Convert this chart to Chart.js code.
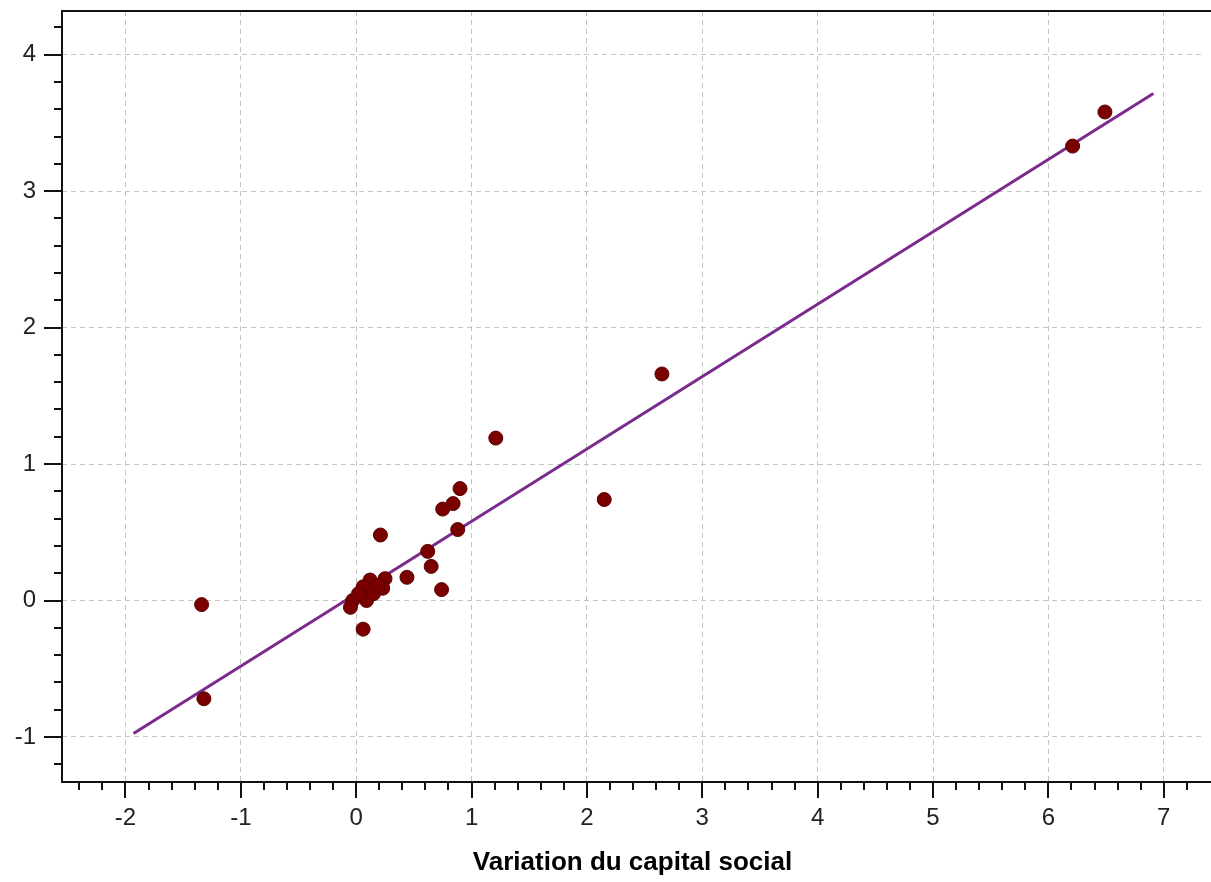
<!DOCTYPE html>
<html>
<head>
<meta charset="utf-8">
<script src="https://cdn.jsdelivr.net/npm/chart.js@4/dist/chart.umd.min.js"></script>
<style>
  body { margin: 0; background: #fff; }
  canvas { display: block; }
</style>
</head>
<body>
<canvas id="chart" width="1211" height="882"></canvas>
<script>
// observed points
const pointsX = [-1.34, -1.32, 6.21, 6.49, 2.65, 2.15, 1.21, 0.90, 0.84, 0.75, 0.88, 0.21, 0.62, 0.65, 0.44, 0.74, 0.06, 0.25, 0.23, 0.12, 0.06, 0.09, -0.03, -0.05, 0.02, 0.15, 0.19];
const pointsY = [-0.03, -0.72, 3.33, 3.58, 1.66, 0.74, 1.19, 0.82, 0.71, 0.67, 0.52, 0.48, 0.36, 0.25, 0.17, 0.08, -0.21, 0.16, 0.09, 0.15, 0.10, 0.00, 0.00, -0.05, 0.05, 0.05, 0.11];

// fitted line end points
const fitX = [-1.93, 6.91];
const fitY = [-0.975, 3.715];

const xTitle = 'Variation du capital social';

const toXY = (xs, ys) => xs.map((x, i) => ({ x: x, y: ys[i] }));

// frame + minor/major ticks drawn outside the plot area
const frameTicks = {
    id: 'frameTicks',
    afterDraw(chart) {
        const ctx = chart.ctx;
        const a = chart.chartArea;
        const xs = chart.scales.x, ys = chart.scales.y;
        ctx.save();
        ctx.strokeStyle = '#111';
        ctx.lineWidth = 2;
        ctx.beginPath();
        ctx.moveTo(chart.width, a.top);
        ctx.lineTo(a.left, a.top);
        ctx.lineTo(a.left, a.bottom);
        ctx.lineTo(chart.width, a.bottom);
        ctx.stroke();

        ctx.beginPath();
        for (let i = Math.ceil(xs.min * 5); i <= Math.floor(xs.max * 5); i++) {
            const px = Math.round(xs.getPixelForValue(i / 5));
            const len = i % 5 === 0 ? 16 : 8;
            ctx.moveTo(px, a.bottom);
            ctx.lineTo(px, a.bottom + len);
        }
        for (let i = Math.ceil(ys.min * 5); i <= Math.floor(ys.max * 5); i++) {
            const py = Math.round(ys.getPixelForValue(i / 5));
            const len = i % 5 === 0 ? 18 : 8;
            ctx.moveTo(a.left, py);
            ctx.lineTo(a.left - len, py);
        }
        ctx.stroke();
        ctx.restore();
    }
};

new Chart(document.getElementById('chart'), {
    type: 'scatter',
    data: {
        datasets: [
            {
                type: 'line',
                data: toXY(fitX, fitY),
                borderColor: '#7b2b8c',
                borderWidth: 3,
                pointRadius: 0,
                fill: false,
                order: 2
            },
            {
                data: toXY(pointsX, pointsY),
                backgroundColor: '#7a0000',
                borderColor: '#5a0000',
                borderWidth: 1,
                pointRadius: 7,
                order: 1
            }
        ]
    },
    options: {
        responsive: false,
        animation: false,
        layout: { padding: { top: 11, left: 0, right: 0, bottom: 0 } },
        plugins: {
            legend: { display: false },
            tooltip: { enabled: false }
        },
        scales: {
            x: {
                type: 'linear',
                min: -2.55,
                max: 7.34,
                afterFit: (s) => { s.height = 100; s.paddingLeft = 0; s.paddingRight = 0; },
                ticks: {
                    stepSize: 1,
                    includeBounds: false,
                    padding: 22,
                    color: '#222',
                    font: { family: 'Liberation Sans', size: 24 }
                },
                grid: { color: '#c4c4c4', lineWidth: 1, drawTicks: false },
                border: { display: false, dash: [5, 4] },
                title: {
                    display: true,
                    text: xTitle,
                    color: '#000',
                    font: { family: 'Liberation Sans', size: 26, weight: 'bold' },
                    padding: { top: 0, bottom: 4 }
                }
            },
            y: {
                type: 'linear',
                min: -1.33,
                max: 4.32,
                afterFit: (s) => { s.width = 62; s.paddingTop = 0; s.paddingBottom = 0; },
                ticks: {
                    stepSize: 1,
                    includeBounds: false,
                    padding: 26,
                    color: '#222',
                    font: { family: 'Liberation Sans', size: 24 }
                },
                grid: { color: '#c4c4c4', lineWidth: 1, drawTicks: false },
                border: { display: false, dash: [5, 4] }
            }
        }
    },
    plugins: [frameTicks]
});
</script>
</body>
</html>
